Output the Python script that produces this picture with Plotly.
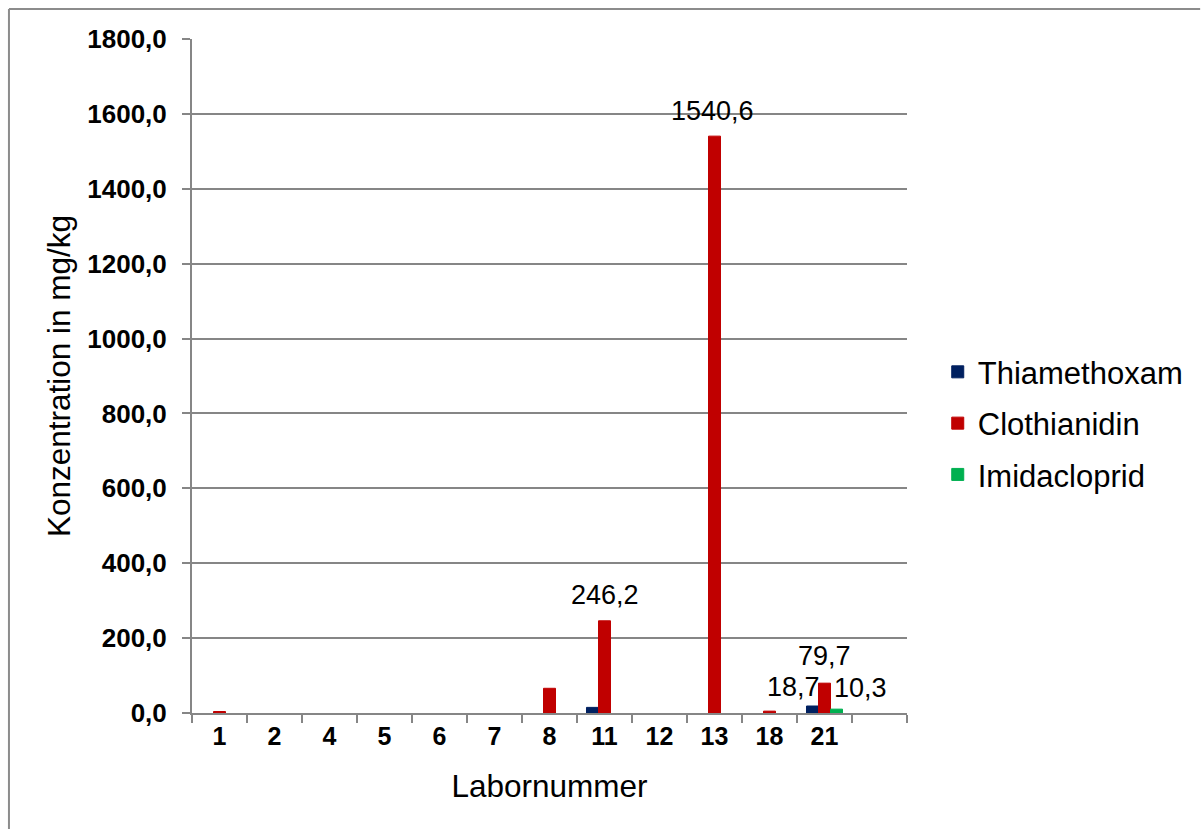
import plotly.graph_objects as go

# Laboratory numbers (last slot is an empty category on the axis)
labs = ["1", "2", "4", "5", "6", "7", "8", "11", "12", "13", "18", "21"]
axis_categories = labs + [" "]

# Concentrations in mg/kg per laboratory (None = not detected)
thiamethoxam = [None, None, None, None, None, None, None, 15.0, None, None, None, 18.7]
clothianidin = [4.0, None, None, None, None, None, 66.0, 246.2, None, 1540.6, 5.0, 79.7]
imidacloprid = [None, None, None, None, None, None, None, None, None, None, None, 10.3]

series_names = ["Thiamethoxam", "Clothianidin", "Imidacloprid"]
series_colors = ["#002060", "#C00000", "#00B050"]

# Value labels shown on selected bars: (lab, value, x shift px, y shift px)
value_labels = [
    ("11", 246.2, 0, 26),
    ("13", 1540.6, -2, 25),
    ("21", 79.7, 0, 27),
    ("21", 18.7, -31, 19),
    ("21", 10.3, 36, 21),
]

FONT = "Liberation Sans, Arial, sans-serif"
GRID = "#868686"

fig = go.Figure()
for name, values, color in zip(series_names, [thiamethoxam, clothianidin, imidacloprid], series_colors):
    fig.add_trace(go.Bar(
        x=labs, y=values, name=name, marker_color=color,
        marker_line=dict(width=1, color=color), legendgroup=name,
    ))

for lab, val, dx, dy in value_labels:
    fig.add_annotation(
        x=axis_categories.index(lab), y=val, text=f"{val:.1f}".replace(".", ","),
        showarrow=False, xshift=dx, yshift=dy,
        font=dict(family=FONT, size=27, color="#000000"),
    )

# Chart area border (top and left edges)
fig.add_shape(type="line", xref="paper", yref="paper", x0=-0.256, x1=1.41, y0=1.0445, y1=1.0445,
              line=dict(color="#8c8c8c", width=2))
fig.add_shape(type="line", xref="paper", yref="paper", x0=-0.256, x1=-0.256, y0=1.0445, y1=-0.2,
              line=dict(color="#8c8c8c", width=2))

fig.update_layout(
    width=1204, height=829,
    margin=dict(l=192, r=297, t=39, b=116),
    paper_bgcolor="white", plot_bgcolor="white",
    separators=",.",
    barmode="group", bargap=0.345, bargroupgap=0,
    font=dict(family=FONT, color="#000000"),
    legend=dict(
        x=1.043, y=0.43, xanchor="left", yanchor="middle",
        font=dict(family=FONT, size=31),
        tracegroupgap=8, traceorder="grouped",
        bgcolor="rgba(0,0,0,0)",
    ),
    xaxis=dict(
        type="category", categoryorder="array", categoryarray=axis_categories,
        range=[-0.5, 12.5], tickson="boundaries",
        ticks="outside", ticklen=8, tickcolor=GRID, tickwidth=2,
        showline=True, linecolor=GRID, linewidth=2,
        showgrid=False,
        tickfont=dict(family=FONT, size=25, weight="bold"),
        title=dict(text="Labornummer", font=dict(family=FONT, size=31.5), standoff=26),
    ),
    yaxis=dict(
        range=[0, 1800], tickvals=[0, 200, 400, 600, 800, 1000, 1200, 1400, 1600, 1800],
        tickformat=".1f",
        ticks="outside", ticklen=8, tickcolor=GRID, tickwidth=2,
        ticklabelstandoff=10,
        showline=True, linecolor=GRID, linewidth=2,
        showgrid=True, gridcolor=GRID, gridwidth=1.5,
        zeroline=False,
        tickfont=dict(family=FONT, size=26, weight="bold"),
        title=dict(text="Konzentration in mg/kg", font=dict(family=FONT, size=31.5), standoff=7),
    ),
)

fig.write_html("out.html")
